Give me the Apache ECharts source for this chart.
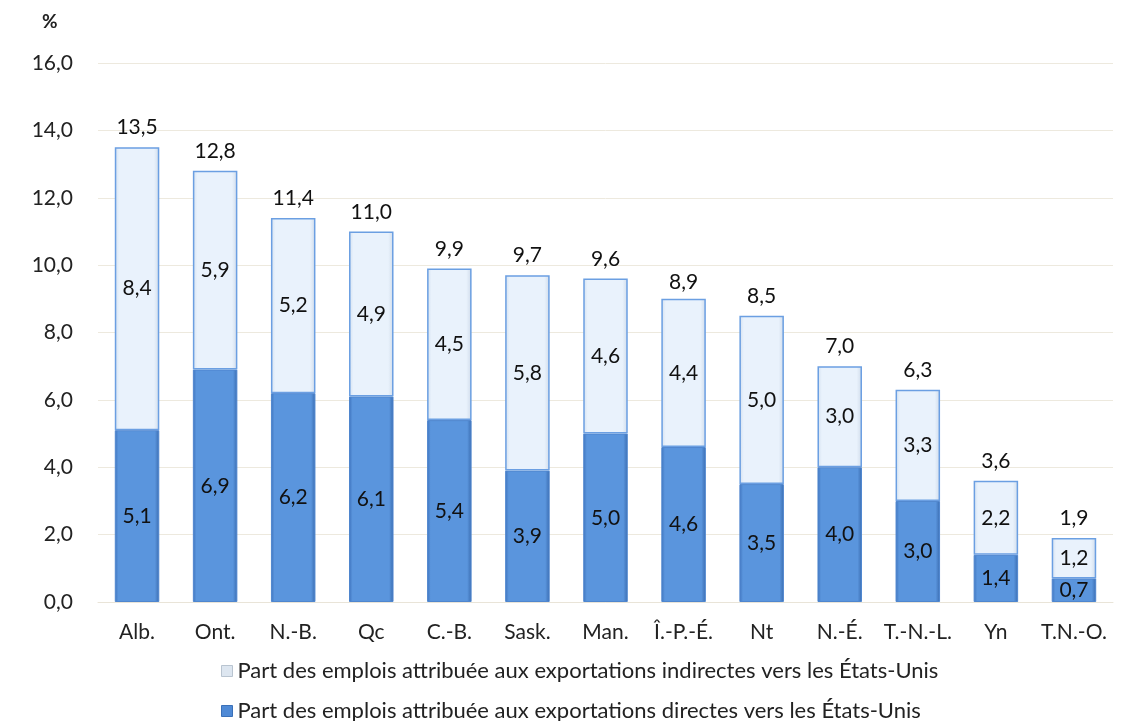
<!DOCTYPE html>
<html><head><meta charset="utf-8">
<script src="https://cdn.jsdelivr.net/npm/echarts@6/dist/echarts.min.js"></script>
<style>html,body{margin:0;padding:0;background:#fff}#c{width:1137px;height:721px}</style>
</head><body><div id="c"></div>
<script>
var categories = ['Alb.','Ont.','N.-B.','Qc','C.-B.','Sask.','Man.','Î.-P.-É.','Nt','N.-É.','T.-N.-L.','Yn','T.N.-O.'];
var direct = [5.1,6.9,6.2,6.1,5.4,3.9,5.0,4.6,3.5,4.0,3.0,1.4,0.7];
var indirect = [8.4,5.9,5.2,4.9,4.5,5.8,4.6,4.4,5.0,3.0,3.3,2.2,1.2];
var totals = [13.5,12.8,11.4,11.0,9.9,9.7,9.6,8.9,8.5,7.0,6.3,3.6,1.9];
var yTicks = [0,2,4,6,8,10,12,14,16];
var nameIndirect = 'Part des emplois attribuée aux exportations indirectes vers les États-Unis';
var nameDirect = 'Part des emplois attribuée aux exportations directes vers les États-Unis';

var FONT = 'Lato, "Open Sans", sans-serif';
var FS = 21;
function fmt(v){ return Number(v).toFixed(1).replace('.', ','); }

var legendBase = {
  orient: 'horizontal', left: 216, itemWidth: 11, itemHeight: 11, icon: 'rect',
  textStyle: {fontSize: 22, color: '#222', fontFamily: FONT}
};

var chart = echarts.init(document.getElementById('c'));
chart.setOption({
  animation: false,
  textStyle: {fontFamily: FONT},
  grid: {left: 98, right: 24, top: 63, bottom: 119},
  graphic: [{type:'text', left: 42, top: 12, style:{text:'%', font:'bold 19px ' + FONT, fill:'#222'}}],
  legend: [
    Object.assign({}, legendBase, {top: 655, data: [
      {name: nameIndirect, itemStyle: {color: '#dde6f0', borderColor: '#b9c4d0', borderWidth: 1}}]}),
    Object.assign({}, legendBase, {top: 695, data: [
      {name: nameDirect, itemStyle: {color: '#4f8ad6', borderColor: '#3a70b8', borderWidth: 1}}]})
  ],
  xAxis: {
    type: 'category', data: categories,
    axisTick: {show: false},
    axisLine: {show: true, lineStyle: {color: '#e9e4d8'}},
    axisLabel: {fontSize: FS, color: '#222', margin: 20, interval: 0, fontFamily: FONT}
  },
  yAxis: {
    type: 'value', min: yTicks[0], max: yTicks[yTicks.length-1], interval: 2,
    axisLine: {show: false}, axisTick: {show: false},
    splitLine: {lineStyle: {color: '#ede9de'}},
    axisLabel: {fontSize: FS, color: '#222', margin: 25, formatter: fmt, fontFamily: FONT}
  },
  series: [
    {
      name: nameDirect, type: 'bar', stack: 's', barWidth: '57%', data: direct,
      itemStyle: {
        color: new echarts.graphic.LinearGradient(0,0,1,0,[
          {offset:0,color:'#3f74bd'},{offset:0.08,color:'#5a95dd'},
          {offset:0.9,color:'#5a95dd'},{offset:1,color:'#3a6cb0'}]),
        borderColor: '#4f86cf', borderWidth: 1
      },
      label: {show: true, position: 'inside', fontSize: FS, color: '#111', formatter: function(p){return fmt(p.value);}, fontFamily: FONT}
    },
    {
      name: nameIndirect, type: 'bar', stack: 's', barWidth: '57%', data: indirect,
      itemStyle: {
        color: new echarts.graphic.LinearGradient(0,0,1,0,[
          {offset:0,color:'#d3e0ef'},{offset:0.1,color:'#e9f2fc'},
          {offset:0.88,color:'#e9f2fc'},{offset:1,color:'#cfdbea'}]),
        borderColor: '#6b9fe2', borderWidth: 1.5
      },
      label: {show: true, position: 'inside', fontSize: FS, color: '#111', formatter: function(p){return fmt(p.value);}, fontFamily: FONT}
    },
    {
      name: 'total', type: 'bar', barGap: '-100%', barWidth: '57%', data: totals, z: 0,
      itemStyle: {color: 'rgba(0,0,0,0)'},
      label: {show: true, position: 'top', distance: 9, fontSize: FS, color: '#111', formatter: function(p){return fmt(p.value);}, fontFamily: FONT},
      tooltip: {show: false}
    }
  ]
});
</script></body></html>
